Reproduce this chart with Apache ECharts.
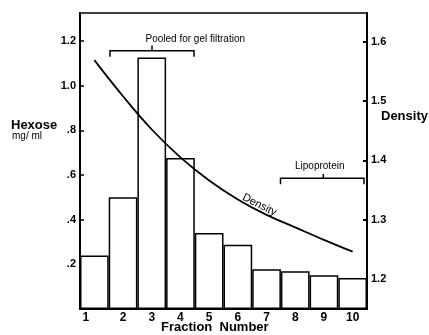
<!DOCTYPE html>
<html><head><meta charset="utf-8">
<script src="https://cdn.jsdelivr.net/npm/echarts@6/dist/echarts.min.js"></script>
<style>html,body{margin:0;padding:0;background:#fff}#c{width:429px;height:335px}</style>
</head><body><div id="c"></div>
<script>
const fractions = ['1','2','3','4','5','6','7','8','9','10'];
const hexose = [0.24, 0.50, 1.126, 0.676, 0.34, 0.288, 0.178, 0.169, 0.151, 0.139];
const density = [1.569, 1.508, 1.452, 1.405, 1.366, 1.334, 1.308, 1.287, 1.266, 1.246];
const hexoseTicks = [0.2, 0.4, 0.6, 0.8, 1.0, 1.2];
const densityTicks = [1.2, 1.3, 1.4, 1.5, 1.6];

const FONT = '"Liberation Sans", Arial, sans-serif';
const chart = echarts.init(document.getElementById('c'), null, {renderer: 'canvas'});

function fmtHex(v) {
  if (v < 1) return '.' + Math.round(v * 10);
  return v.toFixed(1);
}

const option = {
  animation: false,
  backgroundColor: '#fff',
  grid: {left: 80, right: 62, top: 13, bottom: 26, show: true, borderColor: '#000', borderWidth: 1.5, backgroundColor: 'transparent'},
  xAxis: {
    type: 'category', data: fractions, boundaryGap: true,
    axisLine: {lineStyle: {color: '#000', width: 2}},
    axisTick: {show: false},
    axisLabel: {
      interval: 0,
      color: '#000', fontFamily: FONT, fontWeight: 'bold', fontSize: 12, margin: 3,
      formatter: function (v) { return v === '1' ? '{a|1}' : v; },
      rich: {a: {padding: [0, 17, 0, 0], color: '#000', fontFamily: FONT, fontWeight: 'bold', fontSize: 12}}
    },
    splitLine: {show: false}
  },
  yAxis: [{
    type: 'value', min: 0, max: 1.325, position: 'left',
    axisLine: {show: true, lineStyle: {color: '#000', width: 2}},
    axisTick: {show: true, inside: true, length: 4, lineStyle: {color: '#000', width: 1.5}, customValues: hexoseTicks},
    axisLabel: {color: '#000', fontFamily: FONT, fontWeight: 'bold', fontSize: 11, margin: 4, padding: [0, 0, 4, 0],
      customValues: hexoseTicks, formatter: fmtHex},
    splitLine: {show: false}
  }, {
    type: 'value', min: 1.1494, max: 1.6484, position: 'right',
    axisLine: {show: true, lineStyle: {color: '#000', width: 2}},
    axisTick: {show: true, inside: true, length: 4, lineStyle: {color: '#000', width: 2}, customValues: densityTicks},
    axisLabel: {color: '#000', fontFamily: FONT, fontWeight: 'bold', fontSize: 11, margin: 4, padding: [0, 0, 4, 0],
      customValues: densityTicks, formatter: function (v) { return v.toFixed(1); }},
    splitLine: {show: false}
  }],
  series: [{
    type: 'bar', yAxisIndex: 0, data: hexose, barWidth: '100%', barCategoryGap: 0,
    itemStyle: {color: '#fff', borderColor: '#000', borderWidth: 1.5},
    z: 2
  }, {
    type: 'line', yAxisIndex: 1, data: density, smooth: 0.4, symbol: 'none',
    lineStyle: {color: '#000', width: 1.8}, z: 3
  }],
  graphic: [
    {type: 'text', left: 11, top: 119, style: {text: 'Hexose', font: 'bold 13px ' + FONT, fill: '#000'}},
    {type: 'text', left: 12, top: 131, style: {text: 'mg/ ml', font: '10px ' + FONT, fill: '#000'}},
    {type: 'text', left: 381, top: 110, style: {text: 'Density', font: 'bold 13px ' + FONT, fill: '#000'}},
    {type: 'text', left: 161, top: 321, style: {text: 'Fraction  Number', font: 'bold 13px ' + FONT, fill: '#000'}},
    {type: 'polyline', shape: {points: [[110, 56.7], [110, 50.7], [194, 50.7], [194, 56.7]]}, style: {stroke: '#000', lineWidth: 1.5, fill: null}},
    {type: 'line', shape: {x1: 152, y1: 50.7, x2: 152, y2: 45.5}, style: {stroke: '#000', lineWidth: 1.5}},
    {type: 'text', left: 145.5, top: 34, style: {text: 'Pooled for gel filtration', font: '10px ' + FONT, fill: '#000'}},
    {type: 'polyline', shape: {points: [[280.5, 184.3], [280.5, 178.3], [364, 178.3], [364, 184.3]]}, style: {stroke: '#000', lineWidth: 1.5, fill: null}},
    {type: 'line', shape: {x1: 323.3, y1: 178.3, x2: 323.3, y2: 174}, style: {stroke: '#000', lineWidth: 1.5}},
    {type: 'text', left: 295, top: 161, style: {text: 'Lipoprotein', font: '10px ' + FONT, fill: '#000'}},
    {type: 'text', x: 259.5, y: 205, rotation: -27 * Math.PI / 180,
      style: {text: 'Density', font: '11px ' + FONT, fill: '#000', align: 'center', verticalAlign: 'middle'}}
  ]
};
chart.setOption(option);
</script>
</body></html>
